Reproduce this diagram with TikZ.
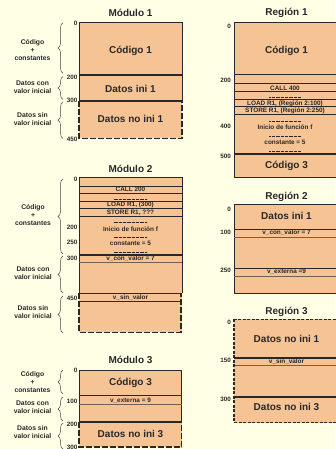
\documentclass[tikz,border=0pt]{standalone}
\usepackage{fontspec}
\setmainfont{Liberation Sans}
\usetikzlibrary{decorations.pathreplacing}
\definecolor{bgc}{RGB}{255,255,230}
\definecolor{fillc}{RGB}{246,196,148}
\definecolor{ink}{RGB}{40,40,40}
\definecolor{rowc}{RGB}{115,95,75}
\begin{document}
\begin{tikzpicture}[x=1pt,y=1pt,
  titlet/.style={font=\bfseries\fontsize{10}{12}\selectfont, text=ink, inner sep=0},
  bigt/.style={font=\bfseries\fontsize{10}{12}\selectfont, text=ink, inner sep=0},
  smallt/.style={font=\bfseries\fontsize{6.4}{7}\selectfont, text=ink, inner sep=0},
  numt/.style={font=\bfseries\fontsize{6.3}{7}\selectfont, text=ink, inner sep=0, anchor=east},
  labt/.style={font=\bfseries\fontsize{6.8}{8}\selectfont, text=ink, inner sep=0, align=center},
  bracec/.style={draw=ink!85, line width=0.5pt, decorate, decoration={brace, amplitude=5pt}},
  boxline/.style={draw=ink, line width=1pt},
  sepline/.style={draw=ink, line width=1.6pt},
  rowline/.style={draw=ink, line width=0.6pt},
  uline/.style={draw=rowc, line width=1pt},
  dashb/.style={draw=ink, line width=1.3pt, dash pattern=on 6pt off 2pt},
  dashr/.style={draw=ink, line width=1.5pt, dash pattern=on 3pt off 1.5pt},
  dotsl/.style={draw=ink, line width=0.4pt, dash pattern=on 0.8pt off 0.5pt}
]
\useasboundingbox (0,0) rectangle (335,-449);
\fill[bgc] (0,0) rectangle (335,-449);

% ================= Modulo 1
\node[titlet] (m1t) at (130.5,-13) {Módulo 1};
\fill[fillc] (79,-22.7) rectangle (182,-138.3);
\draw[boxline] (79,-101) -- (79,-22.7) -- (182,-22.7) -- (182,-101);
\draw[sepline] (79,-75) -- (182,-75);
\draw[sepline] (79,-101) -- (182,-101);
\draw[dashb] (79,-101) -- (79,-138.3) -- (182,-138.3) -- (182,-101);
\node[bigt] (m1a) at (130.5,-51) {Código 1};
\node[bigt] (m1b) at (130.5,-89) {Datos ini 1};
\node[bigt] (m1c) at (130.5,-119) {Datos no ini 1};
\node[numt] (m1n0) at (77.5,-23.5) {0};
\node[numt] (m1n1) at (77.5,-77.5) {200};
\node[numt] (m1n2) at (77.5,-100) {300};
\node[numt] (m1n3) at (77.5,-139) {450};
\node[labt] (m1l1) at (32.5,-50) {Código\\+\\constantes};
\node[labt] (m1l2) at (32.5,-87.5) {Datos con\\valor inicial};
\node[labt] (m1l3) at (32.5,-119) {Datos sin\\valor inicial};
\coordinate (m1b1a) at (63,-73.3); \coordinate (m1b1b) at (63,-22.7);
\coordinate (m1b2a) at (63,-99.5); \coordinate (m1b2b) at (63,-76.5);
\coordinate (m1b3a) at (63,-138.5); \coordinate (m1b3b) at (63,-102);
\draw[bracec] (m1b1a) -- (m1b1b);
\draw[bracec] (m1b2a) -- (m1b2b);
\draw[bracec] (m1b3a) -- (m1b3b);

% ================= Modulo 2
\node[titlet] (m2t) at (130.5,-168.5) {Módulo 2};
\fill[fillc] (79,-177.7) rectangle (182,-332.3);
\draw[boxline] (79,-293.3) -- (79,-177.7) -- (182,-177.7) -- (182,-293.3);
\foreach \yy in {186,193.3,201,208.7,216} \draw[rowline] (79,-\yy) -- (182,-\yy);
\draw[sepline] (79,-254.7) -- (182,-254.7);
\draw[uline] (79,-262.7) -- (182,-262.7);
\draw[sepline] (79,-293.3) -- (182,-293.3);
\draw[rowline] (79,-301) -- (182,-301);
\draw[dashb] (79,-293.3) -- (79,-332.3) -- (181,-332.3) -- (181,-293.3);
\node[smallt] (m2r1) at (130.5,-189.6) {CALL 200};
\draw[dotsl] (113.5,-199.3) -- (147.3,-199.3);
\node[smallt] (m2r2) at (130.5,-205) {LOAD R1, (300)};
\node[smallt] (m2r3) at (130.5,-212.4) {STORE R1, ???};
\draw[dotsl] (113.5,-222.5) -- (147.3,-222.5);
\node[smallt] (m2r4) at (130.5,-228.7) {Inicio de función f};
\draw[dotsl] (113.5,-237.5) -- (147.3,-237.5);
\node[smallt] (m2r5) at (130.5,-243.7) {constante = 5};
\draw[dotsl] (113.5,-252.5) -- (147.3,-252.5);
\node[smallt] (m2r6) at (130.5,-258.7) {v\_con\_valor = 7};
\node[smallt] (m2r7) at (130.5,-297.3) {v\_sin\_valor};
\node[numt] (m2n0) at (77.5,-179) {0};
\node[numt] (m2n1) at (77.5,-227.7) {200};
\node[numt] (m2n2) at (77.5,-242.7) {250};
\node[numt] (m2n3) at (77.5,-258.3) {300};
\node[numt] (m2n4) at (77.5,-298) {450};
\node[labt] (m2l1) at (33,-215.3) {Código\\+\\constantes};
\node[labt] (m2l2) at (33,-272.8) {Datos con\\valor inicial};
\node[labt] (m2l3) at (33,-312.5) {Datos sin\\valor inicial};
\coordinate (m2b1a) at (63,-254); \coordinate (m2b1b) at (63,-179);
\coordinate (m2b2a) at (63,-293); \coordinate (m2b2b) at (63,-256);
\coordinate (m2b3a) at (63,-333); \coordinate (m2b3b) at (63,-296);
\draw[bracec] (m2b1a) -- (m2b1b);
\draw[bracec] (m2b2a) -- (m2b2b);
\draw[bracec] (m2b3a) -- (m2b3b);

% ================= Modulo 3
\node[titlet] (m3t) at (130.5,-359.5) {Módulo 3};
\fill[fillc] (79,-370) rectangle (181.7,-447);
\draw[boxline] (79,-421.7) -- (79,-370) -- (181.7,-370) -- (181.7,-421.7);
\draw[rowline] (79,-395.7) -- (181.7,-395.7);
\draw[uline] (79,-404) -- (181.7,-404);
\draw[sepline] (79,-421.7) -- (181.7,-421.7);
\draw[dashb] (79,-421.7) -- (79,-447) -- (181.7,-447) -- (181.7,-421.7);
\node[bigt] (m3a) at (130.5,-383.3) {Código 3};
\node[smallt] (m3b) at (130.5,-400.3) {v\_externa = 9};
\node[bigt] (m3c) at (130.5,-434.3) {Datos no ini 3};
\node[numt] (m3n0) at (77.5,-370.5) {0};
\node[numt] (m3n1) at (77.5,-401.7) {100};
\node[numt] (m3n2) at (77.5,-424.3) {200};
\node[numt] (m3n3) at (77.5,-447.5) {300};
\node[labt] (m3l1) at (32.5,-381.7) {Código\\+\\constantes};
\node[labt] (m3l2) at (32.5,-407.5) {Datos con\\valor inicial};
\node[labt] (m3l3) at (32.5,-432.5) {Datos sin\\valor inicial};
\coordinate (m3b1a) at (63,-394); \coordinate (m3b1b) at (63,-370);
\coordinate (m3b2a) at (63,-421); \coordinate (m3b2b) at (63,-397);
\coordinate (m3b3a) at (63,-449); \coordinate (m3b3b) at (63,-423);
\draw[bracec] (m3b1a) -- (m3b1b);
\draw[bracec] (m3b2a) -- (m3b2b);
\draw[bracec] (m3b3a) -- (m3b3b);

% ================= Region 1
\node[titlet] (r1t) at (286.5,-13.3) {Región 1};
\fill[fillc] (234,-22.7) rectangle (339,-177.7);
\draw[boxline] (234,-22.7) rectangle (339,-177.7);
\draw[sepline] (234,-74.7) -- (339,-74.7);
\draw[sepline] (234,-154.3) -- (339,-154.3);
\foreach \yy in {83.3,91,99.3,106.7,114.3} \draw[rowline] (234,-\yy) -- (339,-\yy);
\node[bigt] (r1a) at (286.5,-51) {Código 1};
\node[smallt] (r1r1) at (285,-87.8) {CALL 400};
\draw[dotsl] (269,-96.9) -- (301,-96.9);
\node[smallt] (r1r2) at (285,-103.4) {LOAD R1, (Región 2:100)};
\node[smallt] (r1r3) at (285,-110.8) {STORE R1, (Región 2:250)};
\draw[dotsl] (269,-121) -- (301,-121);
\node[smallt] (r1r4) at (285,-126.7) {Inicio de función f};
\draw[dotsl] (269,-136) -- (301,-136);
\node[smallt] (r1r5) at (285,-142.3) {constante = 5};
\draw[dotsl] (269,-151.2) -- (301,-151.2);
\node[bigt] (r1b) at (286.5,-165.7) {Código 3};
\node[numt] (r1n0) at (231,-26.7) {0};
\node[numt] (r1n1) at (231,-80) {200};
\node[numt] (r1n2) at (231,-126.7) {400};
\node[numt] (r1n3) at (231,-156.7) {500};

% ================= Region 2
\node[titlet] (r2t) at (286.5,-196.7) {Región 2};
\fill[fillc] (234,-204) rectangle (339,-293.7);
\draw[boxline] (234,-204) rectangle (339,-293.7);
\node[bigt] (r2a) at (286.5,-215.7) {Datos ini 1};
\draw[rowline] (234,-229.3) -- (339,-229.3);
\draw[uline] (234,-237) -- (339,-237);
\draw[rowline] (234,-268.3) -- (339,-268.3);
\draw[uline] (234,-276) -- (339,-276);
\node[smallt] (r2r1) at (286.5,-232.6) {v\_con\_valor = 7};
\node[smallt] (r2r2) at (286.5,-271.8) {v\_externa =9};
\node[numt] (r2n0) at (231,-209.3) {0};
\node[numt] (r2n1) at (231,-232.3) {100};
\node[numt] (r2n2) at (231,-270) {250};

% ================= Region 3
\node[titlet] (r3t) at (286.5,-311.7) {Región 3};
\fill[fillc] (234,-319.3) rectangle (339,-422.7);
\draw[sepline] (234,-358) -- (339,-358);
\draw[uline] (234,-365.7) -- (339,-365.7);
\draw[sepline] (234,-396.7) -- (339,-396.7);
\draw[dashr] (234,-319.3) rectangle (339,-422.7);
\node[bigt] (r3a) at (286.5,-339.3) {Datos no ini 1};
\node[smallt] (r3r1) at (286.5,-361.6) {v\_sin\_valor};
\node[bigt] (r3b) at (286.5,-407.3) {Datos no ini 3};
\node[numt] (r3n0) at (231,-322.7) {0};
\node[numt] (r3n1) at (231,-360.7) {150};
\node[numt] (r3n2) at (231,-399.3) {300};
\end{tikzpicture}
\end{document}
